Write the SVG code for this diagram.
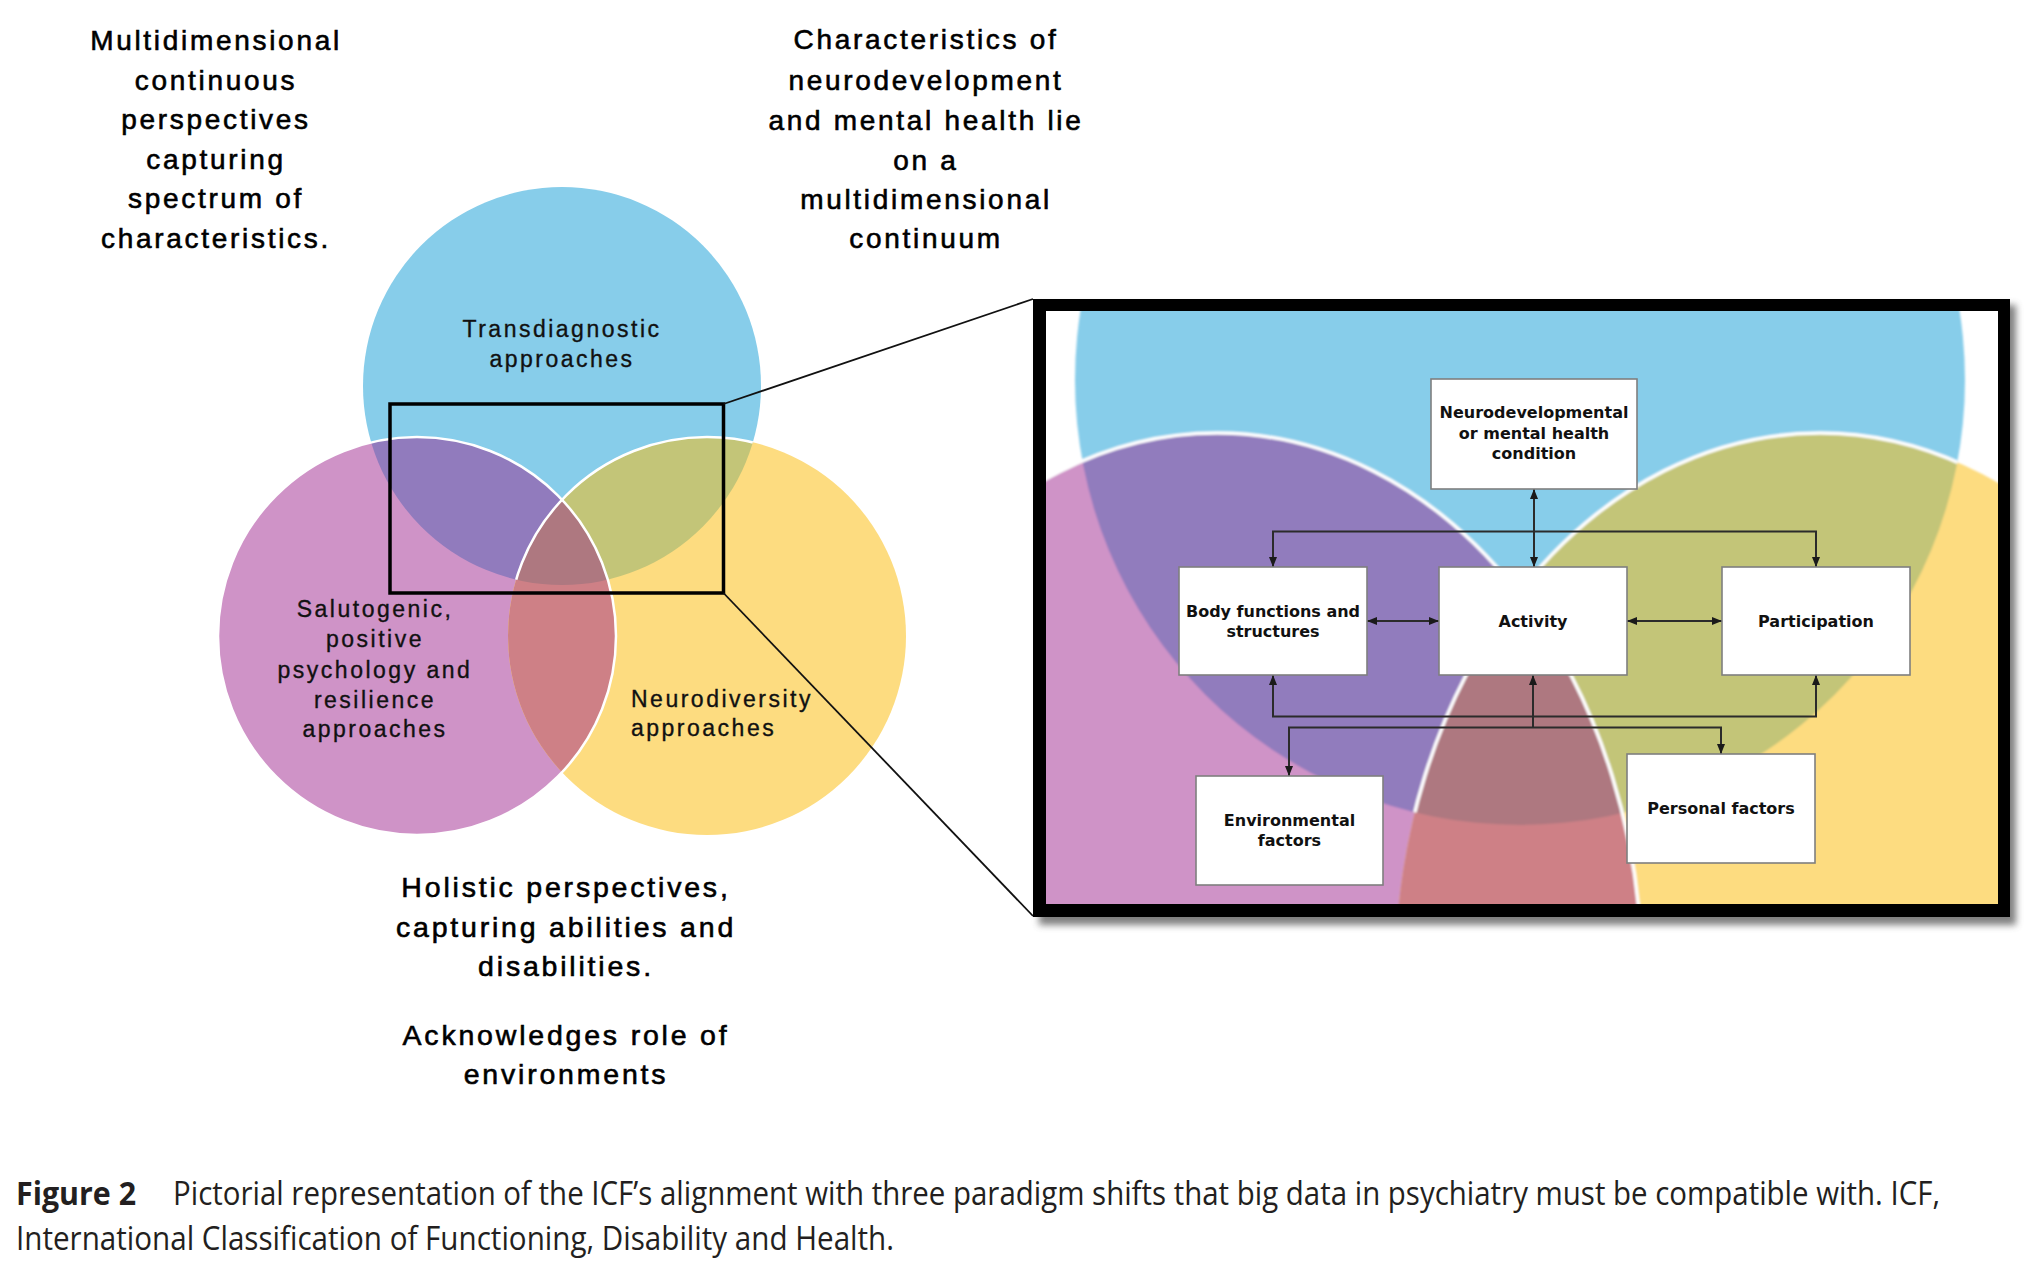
<svg xmlns="http://www.w3.org/2000/svg" width="2038" height="1282" viewBox="0 0 2038 1282">
  <defs>
    <style>
      .big { font-family: "Liberation Sans", Arial, sans-serif; font-size: 28px; letter-spacing: 2.7px; fill: #000; stroke: #000; stroke-width: 0.6px; text-anchor: middle; }
      .bot { font-family: "Liberation Sans", Arial, sans-serif; font-size: 28.5px; letter-spacing: 2.8px; fill: #000; stroke: #000; stroke-width: 0.6px; text-anchor: middle; }
      .lbl { font-family: "Liberation Sans", Arial, sans-serif; font-size: 23px; letter-spacing: 2.5px; fill: #111; stroke: #111; stroke-width: 0.35px; }
      .mid { text-anchor: middle; }
      .box rect { fill: #fff; stroke: #7f7f7f; stroke-width: 1.6; }
      .box text { font-family: "DejaVu Sans", Verdana, sans-serif; font-weight: bold; font-size: 16px; fill: #111; text-anchor: middle; }
      .con { fill: none; stroke: #2b2b2b; stroke-width: 2; }
      .cap { font-family: "Open Sans", "Liberation Sans", sans-serif; font-size: 32px; fill: #231f20; }
      .blue { fill: #87cdea; }
      .pink { fill: #cf93c7; }
      .yell { fill: #fddc80; }
      .purp { fill: #917bbd; }
      .oliv { fill: #c3c578; }
      .rose { fill: #ce8086; }
      .mauv { fill: #ae7880; }
      .edge { fill: none; stroke: #fff; }
    </style>
    <marker id="ah" viewBox="0 0 10 8" refX="10" refY="4" markerWidth="10" markerHeight="8" markerUnits="userSpaceOnUse" orient="auto-start-reverse">
      <path d="M0,0 L10,4 L0,8 z" fill="#1a1a1a"/>
    </marker>
    <clipPath id="cB"><circle cx="562" cy="386" r="199"/></clipPath>
    <clipPath id="cY"><circle cx="707" cy="636" r="199"/></clipPath>
    <clipPath id="cI"><rect x="1046" y="311" width="952" height="593"/></clipPath>
    <clipPath id="iB"><circle cx="1520" cy="380" r="445"/></clipPath>
    <clipPath id="iY"><ellipse cx="1820" cy="976" rx="425" ry="543"/></clipPath>
    <filter id="sh" x="-5%" y="-5%" width="110%" height="110%"><feGaussianBlur stdDeviation="3.5"/></filter>
    <filter id="soft" x="-5%" y="-5%" width="110%" height="110%"><feGaussianBlur stdDeviation="1.3"/></filter>
  </defs>

  <rect width="2038" height="1282" fill="#fff"/>

  <!-- Top text blocks -->
  <g id="text-left">
    <text class="big" x="216" y="50">Multidimensional</text>
    <text class="big" x="216" y="89.5">continuous</text>
    <text class="big" x="216" y="129">perspectives</text>
    <text class="big" x="216" y="168.5">capturing</text>
    <text class="big" x="216" y="208">spectrum of</text>
    <text class="big" x="216" y="247.5">characteristics.</text>
  </g>
  <g id="text-right">
    <text class="big" x="926" y="49">Characteristics of</text>
    <text class="big" x="926" y="89.5">neurodevelopment</text>
    <text class="big" x="926" y="130">and mental health lie</text>
    <text class="big" x="926" y="170">on a</text>
    <text class="big" x="926" y="209">multidimensional</text>
    <text class="big" x="926" y="248">continuum</text>
  </g>

  <!-- Main Venn diagram -->
  <g id="node-transdiagnostic">
    <circle class="blue" cx="562" cy="386" r="199"/>
    <text class="lbl mid" x="562" y="337">Transdiagnostic</text>
    <text class="lbl mid" x="562" y="366.5">approaches</text>
  </g>
  <g id="node-salutogenic">
    <circle class="pink" cx="417" cy="636" r="199"/>
  </g>
  <g id="node-neurodiversity">
    <circle class="yell" cx="707" cy="636" r="199"/>
  </g>
  <g id="venn-overlaps">
    <circle class="purp" cx="417" cy="636" r="199" clip-path="url(#cB)"/>
    <circle class="oliv" cx="707" cy="636" r="199" clip-path="url(#cB)"/>
    <circle class="rose" cx="417" cy="636" r="199" clip-path="url(#cY)"/>
    <g clip-path="url(#cB)"><circle class="mauv" cx="417" cy="636" r="199" clip-path="url(#cY)"/></g>
    <circle class="edge" stroke-width="2.5" cx="417" cy="636" r="199"/>
    <circle class="edge" stroke-width="2.5" cx="707" cy="636" r="199" clip-path="url(#cB)"/>
  </g>
  <g id="labels-venn">
    <text class="lbl mid" x="375" y="617">Salutogenic,</text>
    <text class="lbl mid" x="375" y="647">positive</text>
    <text class="lbl mid" x="375" y="678">psychology and</text>
    <text class="lbl mid" x="375" y="708">resilience</text>
    <text class="lbl mid" x="375" y="737">approaches</text>
    <text class="lbl" x="631" y="707">Neurodiversity</text>
    <text class="lbl" x="631" y="736">approaches</text>
  </g>

  <!-- Bottom text -->
  <g id="text-bottom">
    <text class="bot" x="566" y="897">Holistic perspectives,</text>
    <text class="bot" x="566" y="936.5">capturing abilities and</text>
    <text class="bot" x="566" y="975.5">disabilities.</text>
    <text class="bot" x="566" y="1045">Acknowledges role of</text>
    <text class="bot" x="566" y="1083.5">environments</text>
  </g>

  <!-- Callout: zoom rectangle and lines to inset -->
  <g id="callout">
    <rect x="390" y="404" width="333.5" height="189" fill="none" stroke="#000" stroke-width="3.5"/>
    <line x1="723.5" y1="404" x2="1033" y2="299" stroke="#111" stroke-width="1.8"/>
    <line x1="723.5" y1="593" x2="1033" y2="916" stroke="#111" stroke-width="1.8"/>
  </g>

  <!-- Inset (ICF model) -->
  <g id="icf-inset">
    <rect x="1039" y="305" width="977" height="620" fill="#555" opacity="0.75" filter="url(#sh)"/>
    <rect x="1033" y="299" width="977" height="618" fill="#000"/>
    <g clip-path="url(#cI)">
      <rect x="1046" y="311" width="952" height="593" fill="#fff"/>
      <g filter="url(#soft)">
        <circle class="blue" cx="1520" cy="380" r="445"/>
        <ellipse class="pink" cx="1217" cy="976" rx="425" ry="543"/>
        <ellipse class="yell" cx="1820" cy="976" rx="425" ry="543"/>
        <ellipse class="purp" cx="1217" cy="976" rx="425" ry="543" clip-path="url(#iB)"/>
        <ellipse class="oliv" cx="1820" cy="976" rx="425" ry="543" clip-path="url(#iB)"/>
        <ellipse class="rose" cx="1217" cy="976" rx="425" ry="543" clip-path="url(#iY)"/>
        <g clip-path="url(#iB)"><ellipse class="mauv" cx="1217" cy="976" rx="425" ry="543" clip-path="url(#iY)"/></g>
        <ellipse class="edge" stroke-width="3.5" cx="1217" cy="976" rx="425" ry="543"/>
        <ellipse class="edge" stroke-width="3.5" cx="1820" cy="976" rx="425" ry="543" clip-path="url(#iB)"/>
      </g>
    </g>

    <g id="connectors">
      <path class="con" d="M1534,489 V567" marker-start="url(#ah)" marker-end="url(#ah)"/>
      <path class="con" d="M1273,567 V531.5 H1816 V567" marker-start="url(#ah)" marker-end="url(#ah)"/>
      <path class="con" d="M1367,621 H1439" marker-start="url(#ah)" marker-end="url(#ah)"/>
      <path class="con" d="M1627,621 H1722" marker-start="url(#ah)" marker-end="url(#ah)"/>
      <path class="con" d="M1273,675 V716.5 H1816 V675" marker-start="url(#ah)" marker-end="url(#ah)"/>
      <path class="con" d="M1533,675 V727.5" marker-start="url(#ah)"/>
      <path class="con" d="M1289,776 V727.5 H1721 V754" marker-start="url(#ah)" marker-end="url(#ah)"/>
    </g>

    <g id="node-condition" class="box">
      <rect x="1431" y="379" width="206" height="110"/>
      <text x="1534" y="418">Neurodevelopmental</text>
      <text x="1534" y="438.5">or mental health</text>
      <text x="1534" y="458.5">condition</text>
    </g>
    <g id="node-body" class="box">
      <rect x="1179" y="567" width="188" height="108"/>
      <text x="1273" y="616.5">Body functions and</text>
      <text x="1273" y="636.5">structures</text>
    </g>
    <g id="node-activity" class="box">
      <rect x="1439" y="567" width="188" height="108"/>
      <text x="1533" y="626.5">Activity</text>
    </g>
    <g id="node-participation" class="box">
      <rect x="1722" y="567" width="188" height="108"/>
      <text x="1816" y="626.5">Participation</text>
    </g>
    <g id="node-environmental" class="box">
      <rect x="1196" y="776" width="187" height="109"/>
      <text x="1289.5" y="825.5">Environmental</text>
      <text x="1289.5" y="845.5">factors</text>
    </g>
    <g id="node-personal" class="box">
      <rect x="1627" y="754" width="188" height="109"/>
      <text x="1721" y="814">Personal factors</text>
    </g>
  </g>

  <!-- Caption -->
  <g id="caption">
    <text class="cap" x="16" y="1205" font-weight="bold" textLength="120" lengthAdjust="spacingAndGlyphs">Figure 2</text>
    <text class="cap" x="173" y="1205" textLength="1767" lengthAdjust="spacingAndGlyphs">Pictorial representation of the ICF’s alignment with three paradigm shifts that big data in psychiatry must be compatible with. ICF,</text>
    <text class="cap" x="16" y="1250" textLength="878" lengthAdjust="spacingAndGlyphs">International Classification of Functioning, Disability and Health.</text>
  </g>
</svg>
